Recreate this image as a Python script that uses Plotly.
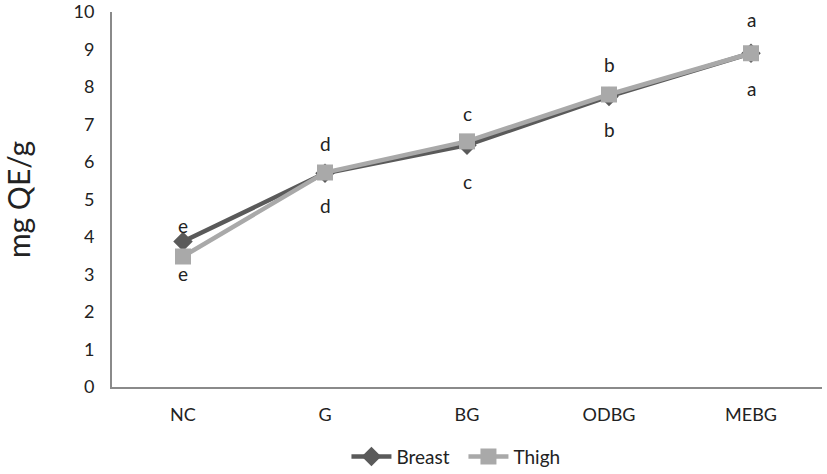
import plotly.graph_objects as go

categories = ["NC", "G", "BG", "ODBG", "MEBG"]
breast = [3.88, 5.70, 6.45, 7.75, 8.90]
thigh = [3.48, 5.72, 6.55, 7.80, 8.90]
upper_letters = ["e", "d", "c", "b", "a"]
lower_letters = ["e", "d", "c", "b", "a"]

# pixel offsets of the significance letters (style, not data)
upper_shift = [16, 29, 28, 30, 34]
lower_shift = [-17, -32, -36, -33, -35]

DARK = "#5a5a5a"
LIGHT = "#a9a9a9"
AXIS = "#8a8a8a"
FONT = "Lato"

fig = go.Figure()
fig.add_trace(go.Scatter(
    x=categories, y=breast, name="Breast", mode="lines+markers",
    line=dict(color=DARK, width=4.5),
    marker=dict(symbol="diamond", size=15, color=DARK),
))
fig.add_trace(go.Scatter(
    x=categories, y=thigh, name="Thigh", mode="lines+markers",
    line=dict(color=LIGHT, width=4.5),
    marker=dict(symbol="square", size=16, color=LIGHT),
))

for i, c in enumerate(categories):
    top = max(breast[i], thigh[i])
    bot = min(breast[i], thigh[i])
    fig.add_annotation(x=c, y=top, text=upper_letters[i], showarrow=False,
                       yshift=upper_shift[i], font=dict(size=19, color="#222", family=FONT))
    fig.add_annotation(x=c, y=bot, text=lower_letters[i], showarrow=False,
                       yshift=lower_shift[i], font=dict(size=19, color="#222", family=FONT))

fig.update_layout(
    width=827, height=474,
    margin=dict(l=112, r=5, t=12, b=87, autoexpand=False),
    paper_bgcolor="white", plot_bgcolor="white",
    font=dict(family=FONT, size=19, color="#222"),
    showlegend=True,
    legend=dict(orientation="h", x=0.495, xanchor="center", y=-0.135, yanchor="top",
                font=dict(size=19, family=FONT), itemwidth=40, tracegroupgap=0,
                entrywidth=62, entrywidthmode="pixels"),
)
fig.update_xaxes(
    type="category", range=[-0.5, 4.5], showgrid=False, zeroline=False,
    showline=True, linecolor=AXIS, linewidth=2, ticks="", ticklabelstandoff=10,
    tickfont=dict(size=18, family=FONT), automargin=False,
)
fig.update_yaxes(
    range=[0, 10], dtick=1, showgrid=False, zeroline=False,
    showline=True, linecolor=AXIS, linewidth=2, ticks="", ticklabelstandoff=12,
    tickfont=dict(size=18, family=FONT), automargin=False, ticklabeloverflow="allow",
    title=dict(text="mg QE/g", font=dict(size=30, family=FONT), standoff=39),
)

fig.write_html("out.html", config={"displayModeBar": False},
               post_script="document.body.style.margin='0';document.body.style.padding='0';")
